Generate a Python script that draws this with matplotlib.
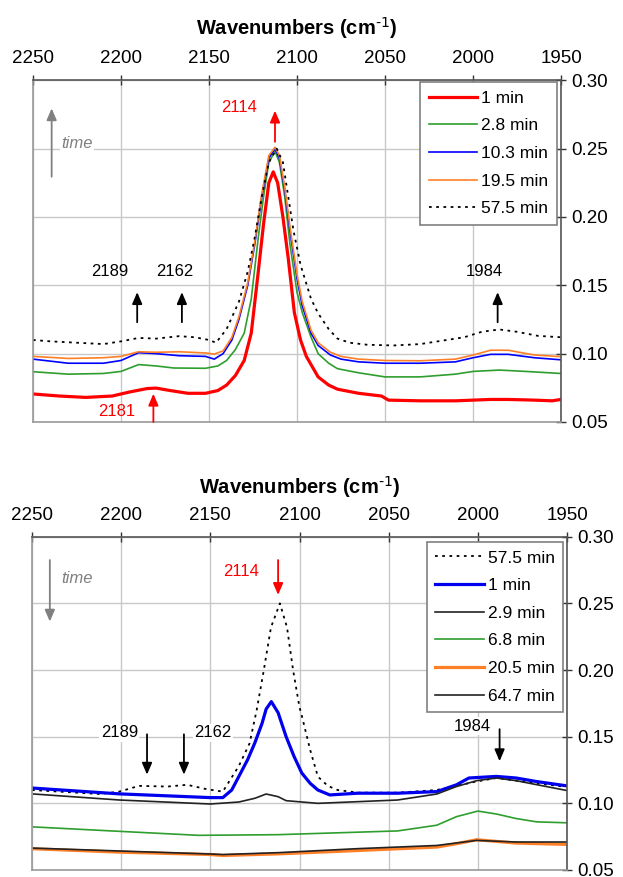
import matplotlib
matplotlib.use("Agg")
import matplotlib.pyplot as plt
import numpy as np

plt.rcParams['font.family'] = ['Liberation Sans', 'DejaVu Sans']

# ---- top panel data (wavenumber, absorbance) ----
wn_1min = [2250, 2235, 2220, 2205, 2195, 2185, 2180, 2172, 2162, 2152, 2145, 2140, 2135, 2130,
           2126, 2122, 2119, 2116, 2113.5, 2111, 2108, 2105, 2101.5, 2098, 2094.7, 2088, 2082,
           2077, 2065, 2052, 2048, 2030, 2010, 2000, 1990, 1980, 1965, 1955, 1950]
ab_1min = [0.0705, 0.069, 0.068, 0.069, 0.072, 0.0745, 0.0748, 0.073, 0.071, 0.071, 0.073, 0.077,
           0.084, 0.095, 0.115, 0.16, 0.195, 0.225, 0.233, 0.225, 0.20, 0.17, 0.13, 0.11, 0.098,
           0.083, 0.077, 0.074, 0.071, 0.069, 0.066, 0.0655, 0.0655, 0.066, 0.0665, 0.0665, 0.066,
           0.0655, 0.0665]

wn_28 = [2250, 2230, 2210, 2200, 2190, 2180, 2170, 2152, 2145, 2140, 2135, 2130, 2126, 2122,
         2119, 2116, 2112.5, 2110, 2107, 2104, 2100, 2097, 2092, 2088, 2082, 2077, 2065, 2050,
         2030, 2010, 2000, 1985, 1970, 1950]
ab_28 = [0.0868, 0.085, 0.0855, 0.087, 0.092, 0.091, 0.0895, 0.0893, 0.091, 0.095, 0.103, 0.115,
         0.14, 0.185, 0.215, 0.24, 0.248, 0.24, 0.215, 0.18, 0.145, 0.13, 0.112, 0.100, 0.093,
         0.089, 0.086, 0.083, 0.083, 0.085, 0.087, 0.088, 0.087, 0.0855]

wn_103 = [2250, 2230, 2210, 2200, 2190, 2180, 2167, 2152, 2147, 2142, 2137, 2133, 2128, 2124,
          2120, 2116, 2112.5, 2110, 2107, 2104, 2100, 2097, 2092, 2088, 2081, 2075, 2065, 2050,
          2030, 2010, 2000, 1990, 1980, 1965, 1950]
ab_103 = [0.096, 0.093, 0.093, 0.095, 0.1007, 0.100, 0.0985, 0.098, 0.096, 0.100, 0.11, 0.125,
          0.15, 0.18, 0.215, 0.243, 0.25, 0.243, 0.22, 0.19, 0.155, 0.135, 0.115, 0.106, 0.099,
          0.096, 0.094, 0.093, 0.093, 0.094, 0.097, 0.0995, 0.0995, 0.097, 0.0955]

wn_195 = [2250, 2230, 2210, 2200, 2190, 2180, 2167, 2152, 2147, 2142, 2137, 2133, 2128, 2124,
          2120, 2116, 2112.5, 2110, 2107, 2104, 2100, 2097, 2092, 2088, 2081, 2075, 2065, 2050,
          2030, 2010, 2000, 1990, 1980, 1965, 1950]
ab_195 = [0.098, 0.0965, 0.097, 0.098, 0.1014, 0.101, 0.1014, 0.1005, 0.0997, 0.102, 0.112, 0.127,
          0.152, 0.182, 0.217, 0.245, 0.251, 0.245, 0.222, 0.193, 0.158, 0.138, 0.117, 0.108, 0.101,
          0.098, 0.096, 0.095, 0.0948, 0.096, 0.099, 0.1025, 0.1025, 0.099, 0.0978]

wn_575 = [2250, 2240, 2225, 2210, 2200, 2190, 2180, 2167, 2158, 2150, 2146, 2140, 2133, 2128,
          2124, 2120, 2116, 2111.5, 2108, 2105, 2102, 2098, 2092, 2088, 2082, 2077, 2070, 2060,
          2045, 2030, 2020, 2005, 1995, 1985, 1975, 1963, 1950]
ab_575 = [0.110, 0.109, 0.108, 0.107, 0.109, 0.1115, 0.111, 0.1128, 0.112, 0.110, 0.108, 0.118,
          0.138, 0.16, 0.185, 0.215, 0.24, 0.250, 0.24, 0.215, 0.19, 0.165, 0.14, 0.1295, 0.118,
          0.111, 0.108, 0.1065, 0.106, 0.107, 0.109, 0.112, 0.116, 0.1177, 0.116, 0.113, 0.112]

# ---- bottom panel data ----
wn_b575 = [2250, 2212, 2201, 2190, 2174, 2163, 2152, 2143, 2134, 2128, 2124, 2120, 2116, 2111,
           2107, 2103.6, 2100, 2098.7, 2094, 2089.7, 2084, 2078.6, 2067, 2045, 2023, 2000.7,
           1989.6, 1967, 1952]
ab_b575 = [0.110, 0.107, 0.1088, 0.1131, 0.1126, 0.1139, 0.1106, 0.1088, 0.128, 0.145, 0.170,
           0.200, 0.232, 0.250, 0.232, 0.200, 0.172, 0.1657, 0.140, 0.120, 0.113, 0.110, 0.108,
           0.108, 0.110, 0.1164, 0.119, 0.115, 0.1126]

wn_b1 = [2249, 2201, 2150, 2143, 2138, 2134, 2129, 2125, 2121, 2118.7, 2115.8, 2112, 2107.5,
         2103, 2098.7, 2094, 2089.7, 2083, 2067.5, 2045, 2023, 2012, 2005, 1989.6, 1978.5,
         1967.3, 1950]
ab_b1 = [0.1114, 0.1071, 0.1043, 0.1043, 0.110, 0.1202, 0.133, 0.1455, 0.160, 0.1707, 0.1763,
         0.168, 0.150, 0.135, 0.1227, 0.115, 0.110, 0.1063, 0.1076, 0.1076, 0.1088, 0.1139, 0.119,
         0.1202, 0.119, 0.1164, 0.1131]

wn_b29 = [2249, 2201, 2150, 2134, 2125, 2118.7, 2112, 2107.5, 2089.7, 2045, 2023, 2012, 2000.7,
          1989.6, 1978.5, 1967, 1950]
ab_b29 = [0.107, 0.1025, 0.0995, 0.101, 0.1038, 0.107, 0.105, 0.102, 0.100, 0.1025, 0.107,
          0.1126, 0.117, 0.119, 0.117, 0.114, 0.1096]

wn_b68 = [2249, 2201, 2156.5, 2112, 2045, 2023, 2012, 2000, 1989.6, 1978.5, 1967, 1950]
ab_b68 = [0.0823, 0.079, 0.076, 0.0765, 0.0793, 0.0836, 0.090, 0.0942, 0.092, 0.0886, 0.0861, 0.0854]

wn_b205 = [2249, 2201, 2150, 2143, 2112, 2067.5, 2023, 2012, 2000.7, 1978.5, 1950]
ab_b205 = [0.0659, 0.0634, 0.0616, 0.0609, 0.0621, 0.0646, 0.0672, 0.0697, 0.0727, 0.0702, 0.0692]

wn_b647 = [2249, 2150, 2143, 2112, 2067.5, 2023, 2000.7, 1978.5, 1950]
ab_b647 = [0.0664, 0.062, 0.0616, 0.063, 0.066, 0.0684, 0.0722, 0.071, 0.071]

xticks = [2250, 2200, 2150, 2100, 2050, 2000, 1950]
yticks = [0.05, 0.10, 0.15, 0.20, 0.25, 0.30]

W, H = 623, 877
fig = plt.figure(figsize=(W / 100, H / 100), dpi=100)


def setup(ax, lpad):
    ax.set_xlim(2250, 1950)
    ax.set_ylim(0.05, 0.30)
    ax.set_xticks(xticks)
    ax.set_yticks(yticks)
    ax.set_yticklabels(['%.2f' % v for v in yticks])
    ax.xaxis.tick_top()
    ax.xaxis.set_label_position('top')
    ax.yaxis.tick_right()
    ax.tick_params(direction='inout', length=7, width=1, labelsize=13.5, colors='#333333',
                   labelcolor='black')
    ax.tick_params(axis='x', pad=6)
    ax.tick_params(axis='y', pad=4)
    ax.grid(True, color='#c8c8c8', lw=1)
    ax.set_axisbelow(True)
    for s in ['top', 'right']:
        ax.spines[s].set_color('#555555')
        ax.spines[s].set_linewidth(1.2)
    for s in ['left', 'bottom']:
        ax.spines[s].set_color('#999999')
        ax.spines[s].set_linewidth(1.2)
    ax.set_xlabel('Wavenumbers (cm$^{\\text{-1}}$)', fontsize=14.5, fontweight='bold',
                  labelpad=lpad)


def arrow(ax, x, y0, y1, color, lw=1.3):
    ax.annotate('', xy=(x, y1), xytext=(x, y0),
                arrowprops=dict(arrowstyle='-|>,head_length=0.7,head_width=0.3',
                                color=color, lw=lw, shrinkA=0, shrinkB=0))


def legend(ax, anchor):
    lg = ax.legend(loc='upper right', bbox_to_anchor=anchor, borderaxespad=0, fontsize=12.5,
                   handlelength=2.8, handletextpad=0.2, labelspacing=0.72, borderpad=0.5,
                   fancybox=False, framealpha=1, edgecolor='#808080')
    lg.get_frame().set_linewidth(1.2)


# ---- top panel ----
ax1 = fig.add_axes([33 / W, 1 - 422 / H, 528 / W, 341.7 / H])
setup(ax1, 11)
ax1.plot(wn_1min, ab_1min, color='#ff0000', lw=2.3, label='1 min')
ax1.plot(wn_28, ab_28, color='#2e9e2e', lw=1.2, label='2.8 min')
ax1.plot(wn_103, ab_103, color='#0000ff', lw=1.2, label='10.3 min')
ax1.plot(wn_195, ab_195, color='#ff7f27', lw=1.2, label='19.5 min')
ax1.plot(wn_575, ab_575, color='black', lw=1.3, ls=(0, (1.5, 2.5)), label='57.5 min')
legend(ax1, (0.992, 0.995))

ax1.text(2132.8, 0.280, '2114', color='#ff0000', fontsize=12, ha='center', va='center')
arrow(ax1, 2112.5, 0.255, 0.2778, '#ff0000')
ax1.text(2224.8, 0.2539, 'time', color='#808080', fontsize=12, style='italic',
         ha='center', va='center', bbox=dict(facecolor='white', edgecolor='none', pad=1))
arrow(ax1, 2239.4, 0.2295, 0.2795, '#808080')
ax1.text(2206.6, 0.160, '2189', fontsize=12, ha='center', va='center')
ax1.text(2169.3, 0.160, '2162', fontsize=12, ha='center', va='center')
ax1.text(1993.4, 0.160, '1984', fontsize=12, ha='center', va='center')
arrow(ax1, 2190.8, 0.123, 0.145, 'black')
arrow(ax1, 2165.4, 0.123, 0.145, 'black')
arrow(ax1, 1986, 0.123, 0.145, 'black')
ax1.text(2202.4, 0.0574, '2181', color='#ff0000', fontsize=12, ha='center', va='center')
arrow(ax1, 2181.6, 0.05, 0.0707, '#ff0000')

# ---- bottom panel ----
ax2 = fig.add_axes([32 / W, 1 - 870 / H, 535 / W, 333.3 / H])
setup(ax2, 9)
ax2.plot(wn_b575, ab_b575, color='black', lw=1.3, ls=(0, (1.5, 2.5)), label='57.5 min')
ax2.plot(wn_b1, ab_b1, color='#0000ee', lw=2.3, label='1 min')
ax2.plot(wn_b29, ab_b29, color='#222222', lw=1.2, label='2.9 min')
ax2.plot(wn_b68, ab_b68, color='#2e9e2e', lw=1.2, label='6.8 min')
ax2.plot(wn_b205, ab_b205, color='#ff7f27', lw=2.3, label='20.5 min')
ax2.plot(wn_b647, ab_b647, color='#222222', lw=1.2, label='64.7 min')
legend(ax2, (0.993, 0.985))

ax2.text(2132.5, 0.2738, '2114', color='#ff0000', fontsize=12, ha='center', va='center')
arrow(ax2, 2112, 0.2825, 0.2563, '#ff0000')
ax2.text(2224.6, 0.2688, 'time', color='#808080', fontsize=12, style='italic',
         ha='center', va='center')
arrow(ax2, 2240, 0.2825, 0.2363, '#808080')
ax2.text(2201, 0.153, '2189', fontsize=12, ha='center', va='center',
         bbox=dict(facecolor='white', edgecolor='none', pad=1))
ax2.text(2148.7, 0.153, '2162', fontsize=12, ha='center', va='center',
         bbox=dict(facecolor='white', edgecolor='none', pad=1))
ax2.text(2003, 0.158, '1984', fontsize=12, ha='center', va='center',
         bbox=dict(facecolor='white', edgecolor='none', pad=1))
arrow(ax2, 2185.5, 0.1518, 0.1215, 'black')
arrow(ax2, 2164.8, 0.1518, 0.1215, 'black')
arrow(ax2, 1987.8, 0.1556, 0.1316, 'black')

fig.savefig('out.png', dpi=100)
